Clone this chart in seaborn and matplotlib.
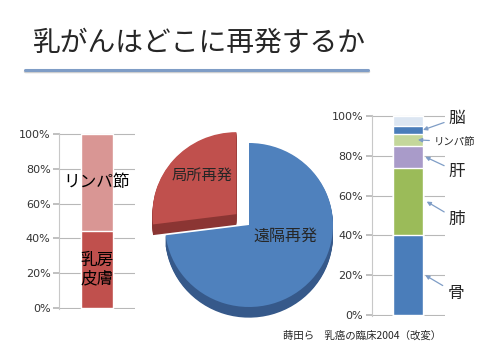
import numpy as np
import matplotlib
matplotlib.use('Agg')
import matplotlib.pyplot as plt
from matplotlib.lines import Line2D
import seaborn as sns

# data
title = '乳がんはどこに再発するか'
source = '蒔田ら　乳癌の臨床2004（改変）'

pct_ticks = [0, 20, 40, 60, 80, 100]
pct_labels = ['0%', '20%', '40%', '60%', '80%', '100%']

local_cats = ['乳房\n皮膚', 'リンパ節']
local_vals = [44, 56]
local_colors = ['#C0504D', '#D99694']

pie_labels = ['局所再発', '遠隔再発']
pie_vals = [27, 73]
pie_top = ['#C0504D', '#4F81BD']
pie_side = ['#8B3533', '#36598A']

dist_cats = ['骨', '肺', '肝', 'リンパ節', '脳', 'その他']
dist_vals = [40, 34, 11, 6, 4, 5]
dist_colors = ['#4A7DBA', '#9BBB59', '#A99BC9', '#C4D79B', '#4A7DBA', '#DCE6F2']

sns.set_theme(style='white')
plt.rcParams['font.family'] = ['Noto Sans CJK JP', 'DejaVu Sans']

W, H = 480, 360
fig = plt.figure(figsize=(4.8, 3.6), dpi=100)


def px_axes(left, right, y0, y100):
    # place an axes so that 0..100 maps to the given pixel rows
    unit = (y0 - y100) / 100.0
    pad = 0.6
    bottom = (H - y0 - pad * unit) / H
    height = ((y0 - y100) + 2 * pad * unit) / H
    ax = fig.add_axes([left / W, bottom, (right - left) / W, height])
    ax.set_ylim(-pad, 100 + pad)
    return ax


def stacked_bar(ax, vals, colors):
    cum = np.cumsum(vals)
    # draw the tallest first so the lower segments sit on top
    for c, col in reversed(list(zip(cum, colors))):
        sns.barplot(x=[0], y=[c], color=col, width=0.41, ax=ax,
                    saturation=1, zorder=3)
    ax.set_xlim(-0.5, 0.5)
    ax.set_yticks(pct_ticks)
    ax.set_yticklabels(pct_labels, fontsize=8, color='#333333',
                       family=['DejaVu Sans'])
    ax.set_xticks([])
    ax.set_xlabel('')
    ax.set_ylabel('')
    ax.yaxis.grid(True, color='#B8B8B8', lw=0.8, zorder=0)
    ax.tick_params(axis='y', length=4, color='#B8B8B8', left=True, pad=2)
    for s in ['top', 'right', 'bottom']:
        ax.spines[s].set_visible(False)
    ax.spines['left'].set_color('#C8C8C8')
    ax.spines['left'].set_linewidth(0.8)
    ax.set_facecolor('none')
    return cum


# left: local recurrence
ax1 = px_axes(59, 135, 308, 134)
cum = stacked_bar(ax1, local_vals, local_colors)
for lab, c, v in zip(local_cats, cum, local_vals):
    ax1.text(0, c - v / 2, lab, ha='center', va='center', fontsize=12,
             color='black', zorder=5, linespacing=1.15)

# middle: pie with a bit of depth
axp = fig.add_axes([140 / W, 30 / H, 218 / W, 210 / H])
explode = [0.2, 0]
depth = 0.13
for d in np.linspace(depth, 0.01, 12):
    axp.pie(pie_vals, colors=pie_side, startangle=90, explode=explode,
            center=(0, -d), wedgeprops=dict(linewidth=0))
axp.pie(pie_vals, colors=pie_top, startangle=90, explode=explode,
        wedgeprops=dict(linewidth=0))
axp.set_aspect('auto')
axp.set_xlim(-109 / 84, 109 / 84)
axp.set_ylim(-105 / 82, 105 / 82)
axp.text(-0.56, 0.6, pie_labels[0], ha='center', va='center', fontsize=11)
axp.text(0.43, -0.14, pie_labels[1], ha='center', va='center', fontsize=11.5)

# right: distant sites
ax2 = px_axes(371.7, 445, 315, 116)
cum2 = stacked_bar(ax2, dist_vals, dist_colors)
mids = cum2 - np.array(dist_vals) / 2
label_y = [11, 48, 72, 87, 99]
label_x = [1.03, 1.05, 1.05, 0.85, 1.05]
tip_x = [0.23, 0.25, 0.23, 0.13, 0.2]
label_fs = [12, 12, 12, 7.5, 12]
for i in range(5):
    ax2.annotate(dist_cats[i], xy=(tip_x[i], mids[i]),
                 xytext=(label_x[i], label_y[i]),
                 textcoords=('axes fraction', 'data'),
                 ha='left', va='center', fontsize=label_fs[i],
                 annotation_clip=False, zorder=6,
                 arrowprops=dict(arrowstyle='-|>', color='#7F9DC6', lw=0.9,
                                 mutation_scale=6, shrinkA=1, shrinkB=0))

# title and decoration
fig.text(33 / W, 1 - 43 / H, title, fontsize=20, va='center', ha='left')
fig.add_artist(Line2D([25 / W, 368 / W], [1 - 71 / H, 1 - 71 / H],
                      color='#D0D0D0', lw=2.5, transform=fig.transFigure))
fig.add_artist(Line2D([25 / W, 368 / W], [1 - 70 / H, 1 - 70 / H],
                      color='#7F9DC6', lw=2.2, transform=fig.transFigure))
fig.text(283 / W, 1 - 336 / H, source, fontsize=7.5, va='center', ha='left')

fig.savefig('out.png', dpi=100)
